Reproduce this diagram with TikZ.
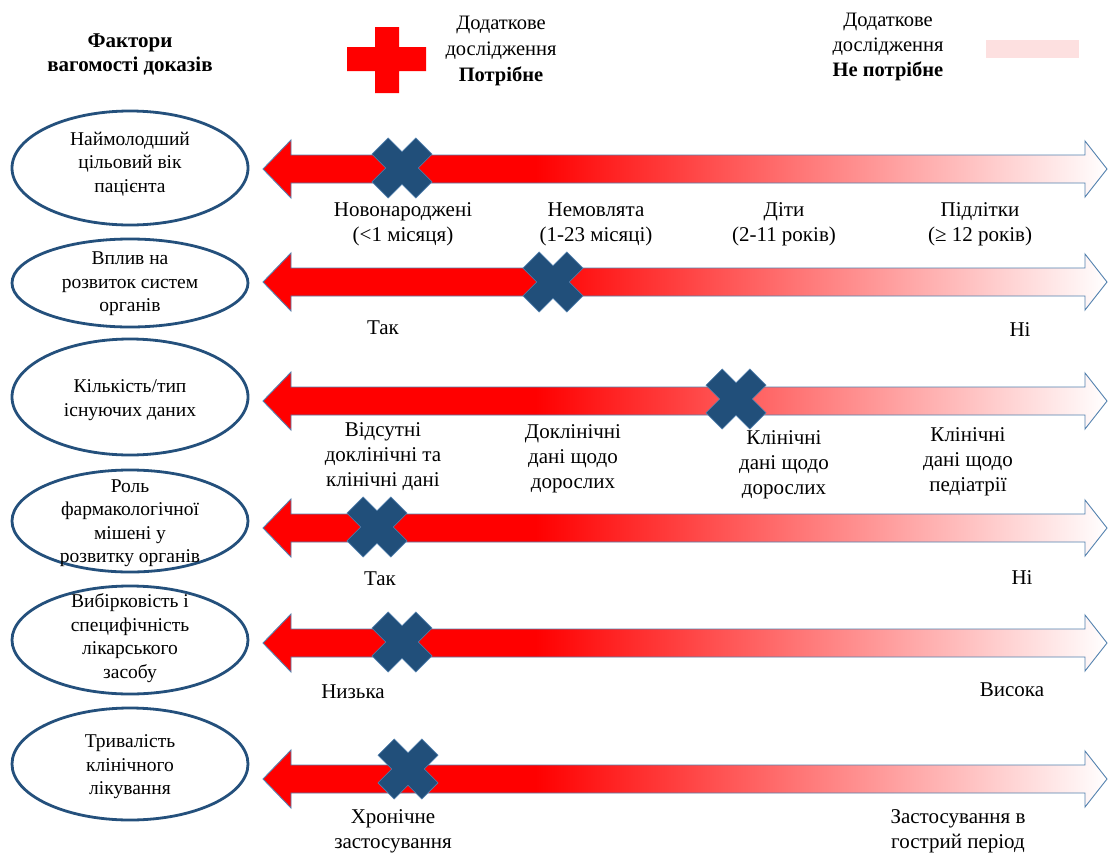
\documentclass[tikz,border=0pt]{standalone}
\usepackage{fontspec}
\setmainfont{Liberation Serif}
\usetikzlibrary{shapes.geometric}

\definecolor{markblue}{RGB}{33,79,122}
\definecolor{rimblue}{RGB}{84,130,175}
\definecolor{ovalblue}{RGB}{36,80,124}
\definecolor{softpink}{RGB}{253,224,224}

\tikzset{
  factor/.style={ellipse, draw=ovalblue, line width=2.8pt, fill=white,
    inner sep=0pt, minimum width=236pt},
  factortext/.style={align=center, font=\fontsize{19.5}{23.5}\selectfont},
  scaletext/.style={align=center, font=\fontsize{21}{25}\selectfont},
  headtext/.style={align=center, font=\fontsize{21}{24}\selectfont\bfseries},
  legendtext/.style={align=center, font=\fontsize{20.5}{26}\selectfont},
  rim/.style={draw=rimblue, line width=0.9pt, line join=miter},
  pics/xmark/.style={code={
    \filldraw[fill=markblue, draw=rimblue, line width=0.6pt, rotate=45]
      (31,11.5) -- (11.5,11.5) -- (11.5,31) -- (-11.5,31) -- (-11.5,11.5)
      -- (-31,11.5) -- (-31,-11.5) -- (-11.5,-11.5) -- (-11.5,-31)
      -- (11.5,-31) -- (11.5,-11.5) -- (31,-11.5) -- cycle;
  }}
}

% Double-headed scale arrow centred on height #1: solid red on the left,
% fading to white towards the right-hand head.
\newcommand{\gradarrow}[1]{%
  \begin{scope}
    \clip (263,#1) -- (291,#1-29) -- (291,#1-14) -- (1085,#1-14)
      -- (1085,#1-28) -- (1107,#1) -- (1085,#1+28) -- (1085,#1+14)
      -- (291,#1+14) -- (291,#1+29) -- cycle;
    \fill[red] (255,#1-32) rectangle (535,#1+32);
    \shade[left color=red, right color=white] (535,#1-32) rectangle (1108,#1+32);
  \end{scope}
  \draw[rim] (263,#1) -- (291,#1-29) -- (291,#1-14) -- (1085,#1-14)
      -- (1085,#1-28) -- (1107,#1) -- (1085,#1+28) -- (1085,#1+14)
      -- (291,#1+14) -- (291,#1+29) -- cycle;
}

\begin{document}
\begin{tikzpicture}[x=1pt, y=-1pt]
\useasboundingbox (0,0) rectangle (1108,854);
\fill[white] (0,0) rectangle (1108,854);

% ---- header and legend ----
\node[headtext] (title) at (130,54) {Фактори\\вагомості доказів};

\fill[red] (347,47) -- (375,47) -- (375,27) -- (399,27) -- (399,47)
  -- (426,47) -- (426,71) -- (399,71) -- (399,93) -- (375,93)
  -- (375,71) -- (347,71) -- cycle;
\node[legendtext] (need) at (501,51) {Додаткове\\дослідження\\\textbf{Потрібне}};

\node[legendtext, font=\fontsize{20.5}{25}\selectfont] (noneed) at (888,47)
  {Додаткове\\дослідження\\\textbf{Не потрібне}};
\fill[softpink] (986,40) rectangle (1079,58);

% ---- factor ovals ----
\node[factor, minimum height=114pt] (f1) at (130,168) {};
\node[factor, minimum height=88pt]  (f2) at (130,283) {};
\node[factor, minimum height=116pt] (f3) at (130,397) {};
\node[factor, minimum height=102pt] (f4) at (130,521) {};
\node[factor, minimum height=108pt] (f5) at (130,640) {};
\node[factor, minimum height=112pt] (f6) at (130,764) {};

\node[factortext] (t1) at (130,164) {Наймолодший\\цільовий вік\\пацієнта};
\node[factortext] (t2) at (130,284) {Вплив на\\розвиток систем\\органів};
\node[factortext] (t3) at (130,400) {Кількість/тип\\існуючих даних};
\node[factortext] (t4) at (130,523) {Роль\\фармакологічної\\мішені у\\розвитку органів};
\node[factortext] (t5) at (130,638) {Вибірковість і\\специфічність\\лікарського\\засобу};
\node[factortext] (t6) at (130,767) {Тривалість\\клінічного\\лікування};

% ---- scale arrows ----
\gradarrow{169}
\gradarrow{282}
\gradarrow{401}
\gradarrow{528}
\gradarrow{643}
\gradarrow{779}

% ---- position marks ----
\pic at (402,168) {xmark};
\pic at (553,282) {xmark};
\pic at (736,399) {xmark};
\pic at (377,527) {xmark};
\pic at (402,642) {xmark};
\pic at (408,769) {xmark};

% ---- scale labels ----
\node[scaletext] (a1) at (403,224) {Новонароджені\\(<1 місяця)};
\node[scaletext] (a2) at (596,224) {Немовлята\\(1-23 місяці)};
\node[scaletext] (a3) at (784,224) {Діти\\(2-11 років)};
\node[scaletext] (a4) at (980,224) {Підлітки\\(≥ 12 років)};

\node[scaletext] (b1) at (383,328) {Так};
\node[scaletext] (b2) at (1020,330) {Ні};

\node[scaletext] (c1) at (383,457) {Відсутні\\доклінічні та\\клінічні дані};
\node[scaletext] (c2) at (573,459) {Доклінічні\\дані щодо\\дорослих};
\node[scaletext] (c3) at (784,465) {Клінічні\\дані щодо\\дорослих};
\node[scaletext] (c4) at (968,462) {Клінічні\\дані щодо\\педіатрії};

\node[scaletext] (d1) at (380,579) {Так};
\node[scaletext] (d2) at (1022,578) {Ні};

\node[scaletext] (e1) at (353,692) {Низька};
\node[scaletext] (e2) at (1012,690) {Висока};

\node[scaletext] (g1) at (393,831) {Хронічне\\застосування};
\node[scaletext] (g2) at (958,831) {Застосування в\\гострий період};
\end{tikzpicture}
\end{document}
